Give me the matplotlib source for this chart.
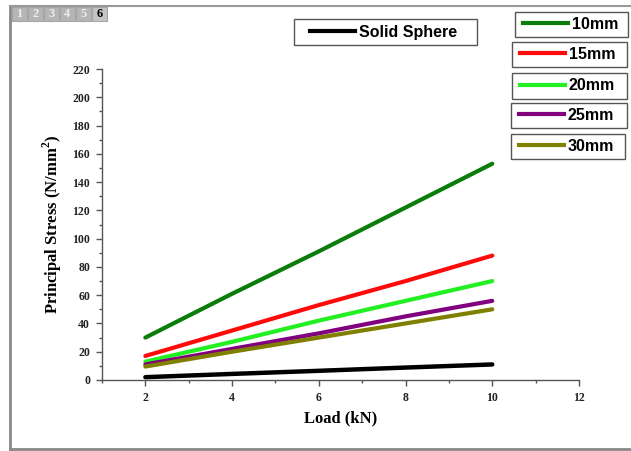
import numpy as np
import matplotlib
matplotlib.use('Agg')
import matplotlib.pyplot as plt
from matplotlib.lines import Line2D
from matplotlib.patches import Rectangle
from matplotlib.ticker import MultipleLocator

matplotlib.rcParams['mathtext.fontset'] = 'custom'
matplotlib.rcParams['mathtext.rm'] = 'Liberation Serif:bold'
matplotlib.rcParams['mathtext.bf'] = 'Liberation Serif:bold'

# data
load = [2, 4, 6, 8, 10]
series_names = ['10mm', '15mm', '20mm', '25mm', '30mm']
s10 = [30, 61, 91, 122, 153]
s15 = [17, 35, 53, 70, 88]
s20 = [13, 27, 42, 56, 70]
s25 = [11, 22, 33, 45, 56]
s30 = [9.5, 20, 30, 40, 50]
solid = [2, 4.3, 6.5, 8.8, 11]
series_vals = [s10, s15, s20, s25, s30]
colors = ['#0a7d0a', '#ff0a0a', '#22f022', '#800080', '#808000']

W, H = 631, 451
fig = plt.figure(figsize=(W / 100, H / 100), dpi=100)
ax = fig.add_axes([102 / W, 1 - 380 / H, (579 - 102) / W, (380 - 69) / H])

for vals, c in zip(series_vals, colors):
    ax.plot(load, vals, color=c, lw=3, solid_capstyle='round')
ax.plot(load, solid, color='black', lw=3.2, solid_capstyle='round')

ax.set_xlim(1, 12)
ax.set_ylim(0, 220)
ax.xaxis.set_major_locator(MultipleLocator(2))
ax.xaxis.set_minor_locator(MultipleLocator(1))
ax.yaxis.set_major_locator(MultipleLocator(20))
ax.yaxis.set_minor_locator(MultipleLocator(10))
for s in ['top', 'right']:
    ax.spines[s].set_visible(False)
for s in ['left', 'bottom']:
    ax.spines[s].set_color('#555555')
    ax.spines[s].set_linewidth(1.0)
ax.tick_params(which='major', length=4.5, width=1, color='#555555', direction='out', pad=4)
ax.tick_params(which='minor', length=2.5, width=1, color='#555555', direction='out')
ax.tick_params(axis='x', pad=4)
ax.set_xticks([2, 4, 6, 8, 10, 12])
ax.set_xticklabels(['2', '4', '6', '8', '10', '12'])
ax.set_yticks(np.arange(0, 221, 20))
ax.set_yticklabels([str(v) for v in range(0, 221, 20)])
for lab in ax.get_xticklabels() + ax.get_yticklabels():
    lab.set_fontfamily('Liberation Serif')
    lab.set_fontweight('bold')
    lab.set_fontsize(8.5)
    lab.set_color('#222222')

ax.set_xlabel('Load (kN)', family='Liberation Serif', weight='bold', fontsize=12, labelpad=5)
ax.set_ylabel(r'Principal Stress (N/mm$^{\mathbf{2}}$)', family='Liberation Serif', weight='bold',
              fontsize=12, labelpad=6)

# separate legend boxes (frame pixel boxes: left, top, right, bottom)
leg_font = {'family': 'Liberation Sans', 'weight': 'bold', 'size': 11.5}
boxes = [(294, 19, 477, 45), (515, 12, 628, 37), (512, 42, 627, 67),
         (512, 73, 627, 99), (511, 103, 627, 128), (511, 134, 625, 159)]
lpads = [16, 8, 8, 8, 8, 8]
names = ['Solid Sphere'] + series_names
cols = ['black'] + colors
for (x0, y0, x1, y1), lp, name, c in zip(boxes, lpads, names, cols):
    fig.add_artist(Rectangle((x0 / W, 1 - y1 / H), (x1 - x0) / W, (y1 - y0) / H,
                             transform=fig.transFigure, fc='white', ec='#555555', lw=1.0))
    h = Line2D([], [], color=c, lw=3)
    lg = fig.legend(handles=[h], labels=[name], loc='center left',
                    bbox_to_anchor=((x0 + lp) / W, 1 - (y0 + y1) / 2 / H), prop=leg_font,
                    frameon=False, borderaxespad=0, borderpad=0,
                    handlelength=2.8, handletextpad=0.25)

# page frame
fig.add_artist(Line2D([10 / W, 10 / W], [1 - 6 / H, 1 - 449 / H], color='#888888', lw=2))
fig.add_artist(Line2D([10 / W, 1], [1 - 6 / H, 1 - 6 / H], color='#999999', lw=1.5))
fig.add_artist(Line2D([10 / W, 1], [1 - 449 / H, 1 - 449 / H], color='#888888', lw=2))

# page tabs
for i in range(6):
    x0 = 12 + i * 16
    active = i == 5
    fig.add_artist(Rectangle((x0 / W, 1 - 21 / H), 15 / W, 14 / H,
                             transform=fig.transFigure,
                             fc='#c4c4c4' if active else '#b5b5b5',
                             ec='#a6a6a6', lw=0.8))
    fig.text((x0 + 7.5) / W, 1 - 14 / H, str(i + 1), ha='center', va='center',
             fontsize=9, weight='bold', family='Liberation Serif',
             color='black' if active else '#eeeeee')

fig.savefig('out.png', dpi=100)
